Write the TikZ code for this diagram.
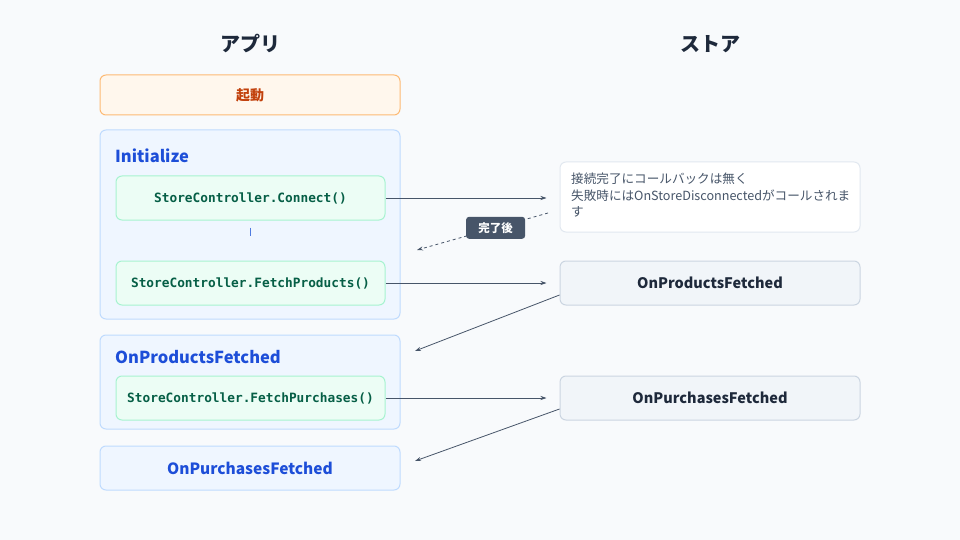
\documentclass[tikz,border=0pt]{standalone}
\usepackage{fontspec}
\setmainfont{Noto Sans CJK JP}
\setmonofont{DejaVu Sans Mono}
\newfontfamily\jp{Noto Sans CJK JP}
\usetikzlibrary{arrows.meta}
\definecolor{bg}{HTML}{F8FAFC}
\definecolor{ink}{HTML}{1E293B}
\definecolor{slate}{HTML}{475569}
\definecolor{orfill}{HTML}{FFF7ED}
\definecolor{ordraw}{HTML}{FDBA74}
\definecolor{ortext}{HTML}{C2410C}
\definecolor{blfill}{HTML}{EFF6FF}
\definecolor{bldraw}{HTML}{BFDBFE}
\definecolor{bltext}{HTML}{1D4ED8}
\definecolor{blbar}{HTML}{4F7BE0}
\definecolor{grfill}{HTML}{ECFDF5}
\definecolor{grdraw}{HTML}{A7F3D0}
\definecolor{grtext}{HTML}{065F46}
\definecolor{stfill}{HTML}{F1F5F9}
\definecolor{stdraw}{HTML}{CBD5E1}
\definecolor{notedraw}{HTML}{E2E8F0}
\tikzset{
  box/.style={rounded corners=6pt, line width=1pt, inner sep=0pt},
  titletext/.style={font=\jp\bfseries\fontsize{20}{24}\selectfont, text=ink},
  startbox/.style={box, fill=orfill, draw=ordraw, minimum width=300pt, minimum height=40pt,
     font=\jp\bfseries\fontsize{14}{16}\selectfont, text=ortext},
  groupbox/.style={box, fill=blfill, draw=bldraw, minimum width=300pt},
  grouptitle/.style={font=\bfseries\fontsize{16.5}{18}\selectfont, text=bltext, anchor=west, inner sep=0pt},
  callbox/.style={box, fill=grfill, draw=grdraw, minimum width=269pt, minimum height=44pt,
     font=\ttfamily\bfseries\fontsize{12.8}{14}\selectfont, text=grtext},
  storebox/.style={box, fill=stfill, draw=stdraw, minimum width=300pt, minimum height=44pt,
     font=\bfseries\fontsize{14.5}{16}\selectfont, text=ink},
  notebox/.style={box, fill=white, draw=notedraw, minimum width=300pt, minimum height=70pt},
  arr/.style={draw=slate, line width=0.8pt, -{Stealth[length=6pt,width=4pt]}},
  tag/.style={rounded corners=3pt, fill=slate, text=white, font=\jp\bfseries\fontsize{11.5}{13}\selectfont,
     minimum width=59pt, minimum height=22pt, inner sep=0pt},
}
\begin{document}
\begin{tikzpicture}[x=1pt,y=-1pt]
\path[fill=bg] (0,0) rectangle (960,540);
\useasboundingbox (0,0) rectangle (960,540);

\node[titletext] (tapp) at (250,44) {アプリ};
\node[titletext] (tstore) at (710,44) {ストア};

\node[startbox] (start) at (250,95) {起動};

% Initialize group
\node[groupbox, minimum height=189pt] (ginit) at (250,224.5) {};
\node[grouptitle] (tinit) at (115,156) {Initialize};
\node[callbox] (connect) at (250.5,198) {StoreController.Connect()};
\node[callbox] (fprod) at (250.5,283) {StoreController.FetchProducts()};
\draw[blbar, line width=1.8pt] ([yshift=-7pt]connect.south) -- ([yshift=25pt]fprod.north);

% OnProductsFetched group
\node[groupbox, minimum height=94pt] (gprod) at (250,382) {};
\node[grouptitle] (tprod) at (115,357) {OnProductsFetched};
\node[callbox] (fpurch) at (250.5,398) {StoreController.FetchPurchases()};

% OnPurchasesFetched group
\node[groupbox, minimum height=44pt, font=\bfseries\fontsize{15.5}{17}\selectfont, text=bltext] (gpurch) at (250,468) {OnPurchasesFetched};

% Store side
\node[notebox] (note) at (710,197) {};
\node[anchor=north west, align=left, text=slate, font=\jp\fontsize{12.6}{16.5}\selectfont, inner sep=0pt] (notetext) at (571,173)
  {接続完了にコールバックは無く\\失敗時にはOnStoreDisconnectedがコールされま\\す};
\node[storebox] (sprod) at (710,283) {OnProductsFetched};
\node[storebox] (spurch) at (710,398) {OnPurchasesFetched};

% connectors
\draw[arr, shorten >=13pt] (connect.east) -- (connect.east -| note.west);
\coordinate (dashstart) at (548,213);
\coordinate (dashend) at (417,250);
\draw[arr, dashed] (dashstart) -- node[tag, pos=0.4] (donetag) {完了後} (dashend);
\draw[arr, shorten >=13pt] (fprod.east) -- (fprod.east -| sprod.west);
\coordinate (p1) at (415,351);
\draw[arr] ([yshift=-12pt]sprod.west) -- (p1);
\draw[arr, shorten >=13pt] (fpurch.east) -- (fpurch.east -| spurch.west);
\coordinate (p2) at (415,461);
\draw[arr] ([yshift=-11pt]spurch.west) -- (p2);
\end{tikzpicture}
\end{document}
